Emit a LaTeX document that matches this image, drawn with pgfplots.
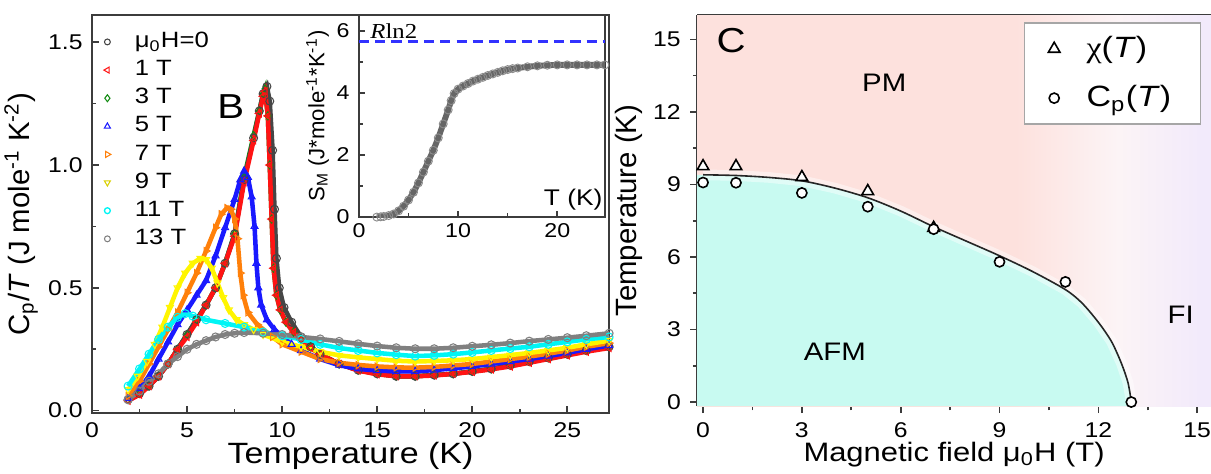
\documentclass[border=0pt]{standalone}
\usepackage{fontspec}
\setmainfont{Liberation Sans}[FakeStretch=1.16]
\newfontfamily\rotfont{Liberation Sans}
\newfontfamily\seriffont{Liberation Serif}[FakeStretch=1.16]
\usepackage{pgfplots}
\pgfplotsset{compat=1.18}
\definecolor{pmcol}{RGB}{253,225,221}
\definecolor{afmcol}{RGB}{200,250,241}
\definecolor{ficol}{RGB}{242,234,251}
\definecolor{midcol}{RGB}{252,244,246}
\definecolor{axcol}{RGB}{60,60,60}
\definecolor{cblack}{RGB}{70,70,70}
\definecolor{cred}{RGB}{255,20,20}
\definecolor{cgreen}{RGB}{20,140,20}
\definecolor{cblue}{RGB}{25,25,255}
\definecolor{corange}{RGB}{255,128,10}
\definecolor{cyellow}{RGB}{255,245,0}
\definecolor{cyan2}{RGB}{0,245,245}
\definecolor{cgray}{RGB}{128,128,128}
\definecolor{dashblue}{RGB}{50,50,255}
\pgfdeclarehorizontalshading{phaseshade}{100bp}{color(0bp)=(pmcol); color(56bp)=(pmcol); color(66bp)=(midcol); color(74bp)=(ficol); color(100bp)=(ficol)}

\pgfplotsset{
  ser/.style={line width=1.7pt, mark size=1.5pt, forget plot},
}

\begin{document}
\begin{tikzpicture}
\useasboundingbox (0,0) rectangle (454.1pt,177.4pt);

%================ Panel B =================
\begin{axis}[
  at={(34.5pt,22.5pt)}, anchor=south west,
  scale only axis, width=193.9pt, height=149.2pt,
  xmin=0, xmax=27.2, ymin=-0.01, ymax=1.61,
  xtick={0,5,...,25}, ytick={0,0.5,1,1.5},
  minor x tick num=1, minor y tick num=1,
  tick align=inside, tick pos=left,
  major tick length=2.6pt, minor tick length=1.6pt,
  axis line style={axcol, line width=0.6pt},
  tick style={axcol, line width=0.6pt},
  yticklabel style={/pgf/number format/.cd, fixed, fixed zerofill, precision=1},
  /pgf/number format/assume math mode=true,
  ticklabel style={font=\fontsize{8}{9}\selectfont},
  xlabel={Temperature (K)},
  xlabel style={font=\fontsize{11}{12}\selectfont, yshift=5pt},
  ylabel={\rotfont C\textsubscript{p}/\textit{T} (J mole\textsuperscript{-1} K\textsuperscript{-2})},
  ylabel style={font=\fontsize{11}{12}\selectfont, yshift=-3pt},
  legend style={draw=none, fill=none, at={(0.022,0.972)}, anchor=north west,
    font=\fontsize{8.3}{9}\selectfont, row sep=-0.7pt, inner sep=0pt,
    /tikz/every odd column/.append style={column sep=7pt}},
  legend cell align=left,
]
% 3 T (hidden under others)
\addplot[ser, cgreen, mark=diamond, mark options={line width=0.4pt, solid}] coordinates {
(1.9,0.045)(2.5,0.07)(3,0.1)(3.5,0.14)(4,0.19)(4.5,0.25)(5,0.31)(5.5,0.37)(6,0.43)(6.5,0.5)(7,0.6)(7.5,0.72)(8,0.95)(8.5,1.12)(8.8,1.22)(9.0,1.29)(9.1,1.31)(9.25,1.2)(9.35,1.0)(9.45,0.78)(9.55,0.58)(9.7,0.47)(9.9,0.41)(10.2,0.36)(10.6,0.32)(11,0.29)(11.5,0.26)(12,0.23)(13,0.19)(14,0.165)(15,0.15)(16,0.14)(17,0.14)(18,0.145)(19,0.15)(20,0.16)(21,0.17)(22,0.185)(23,0.2)(24,0.215)(25,0.23)(26,0.245)(27.2,0.26)};
% 0 T
\addplot[ser, cblack, mark=o, mark options={line width=0.4pt, solid}] coordinates {
(1.9,0.045)(2.5,0.07)(3,0.1)(3.5,0.14)(4,0.19)(4.5,0.25)(5,0.31)(5.5,0.37)(6,0.43)(6.5,0.5)(7,0.6)(7.5,0.72)(8,0.94)(8.5,1.11)(8.8,1.22)(9.0,1.29)(9.2,1.32)(9.35,1.26)(9.5,1.06)(9.6,0.82)(9.7,0.62)(9.85,0.5)(10.1,0.42)(10.5,0.36)(11,0.3)(11.5,0.26)(12,0.23)(13,0.19)(14,0.165)(15,0.15)(16,0.14)(17,0.14)(18,0.145)(19,0.15)(20,0.16)(21,0.17)(22,0.185)(23,0.2)(24,0.215)(25,0.23)(26,0.245)(27.2,0.26)};
% 1 T
\addplot[ser, cred, mark=triangle, mark options={rotate=90, line width=0.4pt, solid}] coordinates {
(1.9,0.04)(2.5,0.065)(3,0.1)(3.5,0.14)(4,0.19)(4.5,0.25)(5,0.3)(5.5,0.36)(6,0.43)(6.5,0.5)(7,0.6)(7.5,0.71)(8,0.93)(8.5,1.1)(8.8,1.21)(9.0,1.28)(9.1,1.3)(9.25,1.2)(9.35,1.0)(9.45,0.78)(9.55,0.58)(9.7,0.47)(9.9,0.41)(10.2,0.36)(10.6,0.32)(11,0.29)(11.5,0.255)(12,0.23)(13,0.19)(14,0.163)(15,0.148)(16,0.14)(17,0.14)(18,0.143)(19,0.15)(20,0.158)(21,0.168)(22,0.18)(23,0.195)(24,0.21)(25,0.225)(26,0.24)(27.2,0.255)};
% 5 T
\addplot[ser, cblue, mark=triangle, mark options={line width=0.4pt, solid}] coordinates {
(1.9,0.05)(2.5,0.09)(3,0.14)(3.5,0.21)(4,0.28)(4.5,0.35)(5,0.41)(5.5,0.47)(6,0.53)(6.5,0.63)(7,0.745)(7.5,0.86)(7.8,0.94)(8.0,0.975)(8.2,0.95)(8.4,0.87)(8.55,0.75)(8.65,0.6)(8.75,0.5)(8.9,0.43)(9.2,0.37)(9.6,0.33)(10.5,0.27)(11,0.245)(12,0.21)(13,0.185)(14,0.17)(15,0.163)(16,0.16)(17,0.16)(18,0.165)(19,0.172)(20,0.18)(21,0.19)(22,0.2)(23,0.21)(24,0.222)(25,0.235)(26,0.25)(27.2,0.265)};
% 7 T
\addplot[ser, corange, mark=triangle, mark options={rotate=-90, line width=0.4pt, solid}] coordinates {
(1.9,0.06)(2.5,0.12)(3,0.19)(3.5,0.26)(4,0.33)(4.5,0.4)(5,0.48)(5.5,0.56)(6,0.65)(6.5,0.745)(6.8,0.8)(7.1,0.825)(7.3,0.82)(7.5,0.78)(7.65,0.7)(7.8,0.56)(7.95,0.47)(8.2,0.4)(8.7,0.35)(9.5,0.3)(10,0.27)(11,0.24)(12,0.21)(13,0.195)(14,0.186)(15,0.18)(16,0.176)(17,0.175)(18,0.178)(19,0.184)(20,0.19)(21,0.2)(22,0.21)(23,0.22)(24,0.232)(25,0.245)(26,0.26)(27.2,0.275)};
% 9 T
\addplot[ser, cyellow, mark=triangle, mark options={rotate=180, line width=0.4pt, solid}] coordinates {
(1.9,0.085)(2.4,0.14)(2.9,0.2)(3.3,0.27)(3.7,0.34)(4.1,0.42)(4.5,0.5)(4.9,0.56)(5.3,0.6)(5.7,0.62)(6.0,0.615)(6.3,0.58)(6.6,0.52)(6.9,0.46)(7.2,0.41)(7.6,0.37)(8.0,0.35)(8.5,0.33)(9,0.31)(10,0.28)(11,0.26)(12,0.24)(13,0.225)(14,0.217)(15,0.21)(16,0.203)(17,0.2)(18,0.202)(19,0.205)(20,0.21)(21,0.218)(22,0.226)(23,0.235)(24,0.245)(25,0.256)(26,0.27)(27.2,0.285)};
% 11 T
\addplot[ser, cyan2, mark=o, mark options={line width=0.4pt, solid}] coordinates {
(1.9,0.1)(2.5,0.17)(3,0.23)(3.5,0.29)(4,0.34)(4.5,0.38)(4.9,0.395)(5.3,0.385)(6,0.37)(7,0.355)(8,0.34)(9,0.32)(10,0.305)(11,0.29)(12,0.27)(13,0.255)(14,0.245)(15,0.235)(16,0.228)(17,0.222)(18,0.225)(19,0.23)(20,0.237)(21,0.245)(22,0.253)(23,0.26)(24,0.27)(25,0.28)(26,0.29)(27.2,0.3)};
% 13 T
\addplot[ser, cgray, mark=o, mark options={line width=0.4pt, solid}] coordinates {
(1.9,0.045)(2.5,0.08)(3,0.12)(3.5,0.15)(4,0.19)(4.5,0.22)(5,0.25)(5.5,0.27)(6,0.285)(6.5,0.3)(7,0.31)(7.5,0.315)(8,0.318)(9,0.315)(10,0.31)(11,0.3)(12,0.292)(13,0.282)(14,0.272)(15,0.263)(16,0.256)(17,0.252)(18,0.252)(19,0.256)(20,0.262)(21,0.268)(22,0.275)(23,0.283)(24,0.29)(25,0.297)(26,0.305)(27.2,0.315)};

\addlegendimage{only marks, mark=o, cblack, mark size=1.1pt, mark options={line width=0.4pt}}
\addlegendentry{μ\textsubscript{0}H=0}
\addlegendimage{only marks, mark=triangle, cred, mark size=1.3pt, mark options={rotate=90, line width=0.4pt}}
\addlegendentry{1 T}
\addlegendimage{only marks, mark=diamond, cgreen, mark size=1.3pt, mark options={line width=0.4pt}}
\addlegendentry{3 T}
\addlegendimage{only marks, mark=triangle, cblue, mark size=1.3pt, mark options={line width=0.4pt}}
\addlegendentry{5 T}
\addlegendimage{only marks, mark=triangle, corange, mark size=1.3pt, mark options={rotate=-90, line width=0.4pt}}
\addlegendentry{7 T}
\addlegendimage{only marks, mark=triangle, cyellow!85!black, mark size=1.3pt, mark options={rotate=180, line width=0.4pt}}
\addlegendentry{9 T}
\addlegendimage{only marks, mark=o, cyan2, mark size=1.1pt, mark options={line width=0.5pt}}
\addlegendentry{11 T}
\addlegendimage{only marks, mark=o, cgray, mark size=1.1pt, mark options={line width=0.4pt}}
\addlegendentry{13 T}

\node[font=\fontsize{13}{13}\selectfont] at (axis cs:7.3,1.24) {B};
\end{axis}

%================ Inset =================
\begin{axis}[
  at={(134.6pt,96pt)}, anchor=south west,
  scale only axis, width=92.2pt, height=75.7pt,
  xmin=0, xmax=24.8, ymin=0, ymax=6.5,
  xtick={0,10,20}, ytick={0,2,4,6},
  minor x tick num=1, minor y tick num=1,
  tick align=inside, tick pos=left,
  major tick length=2.2pt, minor tick length=1.4pt,
  axis line style={axcol, line width=0.6pt},
  tick style={axcol, line width=0.6pt},
  axis background/.style={fill=white},
  /pgf/number format/assume math mode=true,
  ticklabel style={font=\fontsize{7.5}{8}\selectfont},
  xticklabel style={yshift=1pt},
  ylabel={\rotfont S\textsubscript{M} (J*mole\textsuperscript{-1}*K\textsuperscript{-1})},
  ylabel style={font=\fontsize{8.3}{9}\selectfont, yshift=-4pt},
]
\addplot[dashblue, line width=1pt, dash pattern=on 3.8pt off 2.3pt] coordinates {(0,5.65) (24.8,5.65)};
\addplot[black!60, line width=2.2pt, mark=o, mark size=1.5pt, mark options={line width=0.35pt, black!45}] coordinates {
(1.8,0)(2.2,0.01)(2.5,0.02)(3,0.05)(3.5,0.1)(4,0.2)(4.5,0.35)(5,0.55)(5.5,0.8)(6,1.1)(6.5,1.45)(7,1.8)(7.5,2.15)(8,2.55)(8.5,3.0)(9,3.45)(9.3,3.75)(9.6,3.98)(10,4.12)(10.5,4.22)(11,4.3)(11.5,4.38)(12,4.44)(12.5,4.5)(13,4.56)(13.5,4.61)(14,4.66)(14.5,4.71)(15,4.75)(15.5,4.78)(16,4.8)(17,4.84)(18,4.87)(19,4.89)(20,4.9)(21,4.9)(22,4.9)(23,4.9)(24,4.9)(24.8,4.9)};
\node[anchor=west, font=\seriffont\fontsize{8}{9}\selectfont, inner sep=0pt] at (axis cs:1.1,6.0) {\textit{R}ln2};
\node[anchor=east, font=\fontsize{8.5}{9}\selectfont, inner sep=0pt] at (axis cs:24.6,0.55) {T (K)};
\end{axis}

%================ Panel C =================
\begin{axis}[
  at={(261.4pt,25.1pt)}, anchor=south west,
  scale only axis, width=192.7pt, height=146.6pt,
  xmin=-0.18, xmax=15.42, ymin=-0.17, ymax=16.0,
  xtick={0,3,...,15}, ytick={0,3,...,15},
  minor x tick num=1, minor y tick num=1,
  axis x line*=box, axis y line*=left,
  xtick pos=left,
  tick align=outside,
  major tick length=2.6pt, minor tick length=1.6pt,
  axis line style={-, axcol, line width=0.6pt},
  tick style={axcol, line width=0.6pt},
  /pgf/number format/assume math mode=true,
  ticklabel style={font=\fontsize{8}{9}\selectfont},
  xlabel={Magnetic field μ\textsubscript{0}H (T)},
  xlabel style={font=\fontsize{10}{11}\selectfont, yshift=5pt},
  ylabel={\rotfont Temperature (K)},
  ylabel style={font=\fontsize{11}{12}\selectfont, yshift=-3pt},
  legend style={draw=gray!70, line width=0.5pt, fill=white, at={(0.981,0.982)}, anchor=north east,
    font=\fontsize{11}{12}\selectfont, row sep=5pt, inner xsep=9pt, inner ysep=3pt,
    /tikz/every odd column/.append style={column sep=8pt}},
  legend cell align=left,
  clip=true,
]
\shade[shading=phaseshade] (axis cs:-0.18,-0.17) rectangle (axis cs:15.42,16);
\addplot[draw=none, fill=afmcol, forget plot] coordinates {
(-0.18,-0.17)(-0.18,9.40)(0,9.40)(1,9.37)(2,9.29)(3,9.15)(4,8.85)(5,8.45)(6,7.9)(7,7.25)(8,6.65)(9,6.05)(10,5.4)(11,4.65)(11.5,4.1)(12,3.3)(12.4,2.5)(12.7,1.6)(12.9,0.8)(13,0)(13.01,-0.17)} -- cycle;
\addplot[white, opacity=0.45, line width=4pt, forget plot] coordinates {
(0,9.40)(1,9.37)(2,9.29)(3,9.15)(4,8.85)(5,8.45)(6,7.9)(7,7.25)(8,6.65)(9,6.05)(10,5.4)(11,4.65)(11.5,4.1)(12,3.3)(12.4,2.5)(12.7,1.6)(12.9,0.8)(13,0)};
\addplot[black!85, line width=0.6pt, smooth, forget plot] coordinates {
(0,9.40)(1,9.37)(2,9.29)(3,9.15)(4,8.85)(5,8.45)(6,7.9)(7,7.25)(8,6.65)(9,6.05)(10,5.4)(11,4.65)(11.5,4.1)(12,3.3)(12.4,2.5)(12.7,1.6)(12.9,0.8)(13,0)};
\addplot[only marks, mark=triangle*, mark size=2.5pt, mark options={draw=black, fill=white, line width=0.6pt}] coordinates {
(0,9.75)(1,9.75)(3,9.3)(5,8.72)(7,7.2)};
\addlegendentry{{\seriffont χ}(\textit{T})}
\addplot[only marks, mark=*, mark size=1.9pt, mark options={draw=black, fill=white, line width=0.6pt}] coordinates {
(0,9.08)(1,9.07)(3,8.65)(5,8.08)(7,7.15)(9,5.8)(11,4.97)(13,0)};
\addlegendentry{C\textsubscript{p}(\textit{T})}
\node[font=\fontsize{13}{13}\selectfont] at (axis cs:0.85,14.95) {C};
\node[font=\fontsize{9.5}{10}\selectfont] at (axis cs:5.5,13.2) {PM};
\node[font=\fontsize{9.5}{10}\selectfont] at (axis cs:4.0,2.06) {AFM};
\node[font=\fontsize{9.5}{10}\selectfont] at (axis cs:14.5,3.6) {FI};
\end{axis}
\end{tikzpicture}
\end{document}
